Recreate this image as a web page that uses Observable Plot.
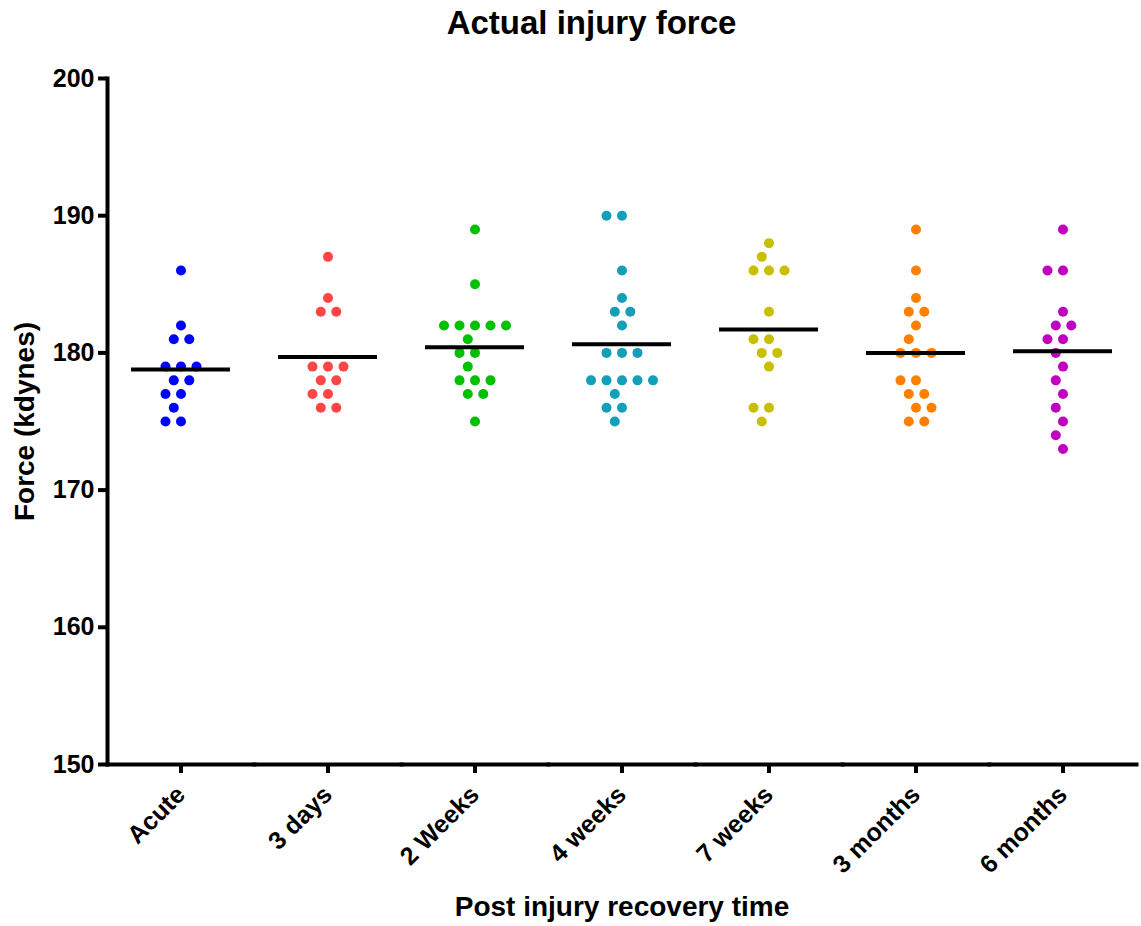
<!DOCTYPE html>
<html><head><meta charset="utf-8">
<script src="https://cdn.jsdelivr.net/npm/d3@7"></script>
<script src="https://cdn.jsdelivr.net/npm/@observablehq/plot@0.6"></script>
<style>
body{margin:0;background:#fff;font-family:"Liberation Sans",Arial,sans-serif;}
#title{height:46px;display:flex;align-items:center;justify-content:center;padding-left:42px;font-size:33px;font-weight:bold;color:#000;}
</style></head><body>
<div id="title">Actual injury force</div>
<div id="chart"></div>
<script>
const categories = ["Acute","3 days","2 Weeks","4 weeks","7 weeks","3 months","6 months"];
const colors = ["#0000ff","#ff4545","#00c000","#139fb7","#c8bf00","#ff8000","#c000c0"];
const acute    = [186,182,181,181,179,179,179,178,178,177,177,176,175,175];
const days3    = [187,184,183,183,179,179,179,178,178,177,177,176,176];
const weeks2   = [189,185,182,182,182,182,182,181,180,180,179,178,178,178,177,177,175];
const weeks4   = [190,190,186,184,183,183,182,180,180,180,178,178,178,178,178,177,176,176,175];
const weeks7   = [188,187,186,186,186,183,181,181,180,180,179,176,176,175];
const months3  = [189,186,184,183,183,182,181,180,180,180,178,178,177,177,176,176,175,175];
const months6  = [189,186,186,183,182,182,181,181,180,179,178,177,176,175,174,173];
const yTicks = [150,160,170,180,190,200];

const series = [acute, days3, weeks2, weeks4, weeks7, months3, months6];
const data = series.flatMap((vals, i) => vals.map(v => ({group: categories[i], value: v})));

const chart = Plot.plot({
  width: 1141,
  height: 880,
  marginTop: 32,
  marginBottom: 162,
  marginLeft: 105,
  marginRight: 4,
  style: {fontFamily: '"Liberation Sans", Arial, sans-serif', color: "#000", background: "#fff"},
  fx: {domain: categories, padding: 0, label: null},
  y: {domain: [150, 200], ticks: yTicks, label: null},
  color: {domain: categories, range: colors},
  marks: [
    Plot.frame({anchor: "left", facetAnchor: "left", strokeWidth: 4, stroke: "#000"}),
    Plot.frame({anchor: "bottom", strokeWidth: 4, stroke: "#000"}),
    Plot.axisY({ticks: yTicks, tickSize: 9, tickPadding: 4, strokeWidth: 4, fontSize: 25, fontWeight: "bold", label: null}),
    Plot.axisY({ticks: [], tickSize: 0, label: "Force (kdynes)", labelAnchor: "center", labelArrow: "none", labelOffset: 93, fontSize: 28, fontWeight: "bold"}),
    Plot.axisFx({anchor: "bottom", tickSize: 9, tickPadding: 17, tickRotate: -45, strokeWidth: 4, fontSize: 25, fontWeight: "bold", label: null}),
    Plot.axisFx({anchor: "bottom", ticks: [], tickSize: 0, label: "Post injury recovery time", labelAnchor: "center", labelArrow: "none", labelOffset: 151, fontSize: 28, fontWeight: "bold"}),
    Plot.dot(data, Plot.dodgeX({anchor: "middle", padding: 5.5}, {fx: "group", y: "value", fill: "group", r: 5})),
    Plot.tickY(data, Plot.groupZ({y: "mean"}, {fx: "group", y: "value", stroke: "#000", strokeWidth: 4, insetLeft: 24, insetRight: 24}))
  ]
});
document.getElementById("chart").appendChild(chart);
</script>
</body></html>
